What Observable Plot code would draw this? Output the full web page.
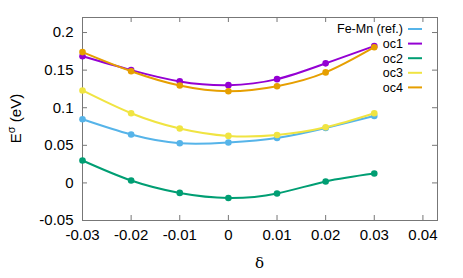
<!DOCTYPE html>
<html>
<head>
<meta charset="utf-8">
<script src="https://cdn.jsdelivr.net/npm/d3@7"></script>
<script src="https://cdn.jsdelivr.net/npm/@observablehq/plot@0.6"></script>
<style>
  html, body { margin: 0; padding: 0; background: #fff; }
  svg { font-family: "Liberation Sans", Arial, sans-serif; }
</style>
</head>
<body>
<div id="chart"></div>
<script>
const delta = [-0.03, -0.02, -0.01, 0, 0.01, 0.02, 0.03];
const seriesNames = ["Fe-Mn (ref.)", "oc1", "oc2", "oc3", "oc4"];
const seriesColors = ["#56b4e9", "#9400d3", "#009e73", "#f0e442", "#e69f00"];
const feMn = [0.0847, 0.0644, 0.0528, 0.0537, 0.0598, 0.0731, 0.0890];
const oc1  = [0.1685, 0.1500, 0.1350, 0.1300, 0.1380, 0.1590, 0.1820];
const oc2  = [0.0298, 0.0032, -0.0133, -0.0200, -0.0140, 0.0019, 0.0125];
const oc3  = [0.1230, 0.0927, 0.0723, 0.0625, 0.0638, 0.0740, 0.0927];
const oc4  = [0.1740, 0.1485, 0.1295, 0.1220, 0.1286, 0.1470, 0.1805];
const seriesValues = [feMn, oc1, oc2, oc3, oc4];
const xTicks = [-0.03, -0.02, -0.01, 0, 0.01, 0.02, 0.03, 0.04];
const xTickLabels = ["-0.03", "-0.02", "-0.01", "0", "0.01", "0.02", "0.03", "0.04"];
const yTicks = [-0.05, 0, 0.05, 0.1, 0.15, 0.2];
const yTickLabels = ["-0.05", "0", "0.05", "0.1", "0.15", "0.2"];

const W = 463, H = 278;
const mL = 82, mR = 26, mT = 17, mB = 58;
const plotW = W - mL - mR, plotH = H - mT - mB;
const tickLen = 5;
const frameColor = "#777";

const rows = [];
seriesNames.forEach((name, i) => {
  delta.forEach((d, j) => rows.push({series: name, idx: i, x: d, y: seriesValues[i][j]}));
});

const marks = [
  Plot.frame({stroke: frameColor}),
  // inward ticks on all four sides
  Plot.ruleX(xTicks, {x: d => d, stroke: frameColor, insetTop: plotH - tickLen}),
  Plot.ruleX(xTicks, {x: d => d, stroke: frameColor, insetBottom: plotH - tickLen}),
  Plot.ruleY(yTicks, {y: d => d, stroke: frameColor, insetRight: plotW - tickLen}),
  Plot.ruleY(yTicks, {y: d => d, stroke: frameColor, insetLeft: plotW - tickLen}),
  Plot.axisX(xTicks, {tickSize: 0, tickPadding: 9, fontSize: 15, tickFormat: (d, i) => xTickLabels[i], label: null, fill: "#000"}),
  Plot.axisY(yTicks, {tickSize: 0, tickPadding: 9, fontSize: 15, tickFormat: (d, i) => yTickLabels[i], label: null, fill: "#000"})
];
seriesNames.forEach((name, i) => {
  const data = rows.filter(r => r.idx === i);
  marks.push(Plot.line(data, {x: "x", y: "y", stroke: seriesColors[i], strokeWidth: 2, curve: "natural"}));
  marks.push(Plot.dot(data, {x: "x", y: "y", fill: seriesColors[i], r: 3.3}));
});

const svgEl = Plot.plot({
  width: W, height: H,
  marginLeft: mL, marginRight: mR, marginTop: mT, marginBottom: mB,
  style: {fontFamily: "'Liberation Sans', Arial, sans-serif", background: "#fff", overflow: "visible"},
  x: {domain: [-0.03, 0.043]},
  y: {domain: [-0.05, 0.22]},
  marks
});
document.getElementById("chart").appendChild(svgEl);

const svg = d3.select(svgEl);
// y label
const yl = svg.append("text")
  .attr("transform", `translate(21, ${mT + plotH / 2}) rotate(-90)`)
  .attr("text-anchor", "middle")
  .attr("font-size", 15)
  .attr("fill", "#000");
yl.append("tspan").text("E");
yl.append("tspan").attr("font-size", 11).attr("dy", -6).text("σ");
yl.append("tspan").attr("dy", 6).text(" (eV)");
// x label
svg.append("text")
  .attr("x", mL + plotW / 2).attr("y", 268)
  .attr("text-anchor", "middle")
  .attr("font-size", 15)
  .attr("font-family", "'DejaVu Serif', serif")
  .attr("fill", "#000")
  .text("δ");
// legend
const lg = svg.append("g");
seriesNames.forEach((name, i) => {
  const cy = 29 + i * 14.6;
  lg.append("text").attr("x", 403).attr("y", cy).attr("dy", "0.35em")
    .attr("text-anchor", "end").attr("font-size", 12.5).attr("fill", "#000").text(name);
  lg.append("line").attr("x1", 408).attr("x2", 422).attr("y1", cy).attr("y2", cy)
    .attr("stroke", seriesColors[i]).attr("stroke-width", 2);
});
</script>
</body>
</html>
